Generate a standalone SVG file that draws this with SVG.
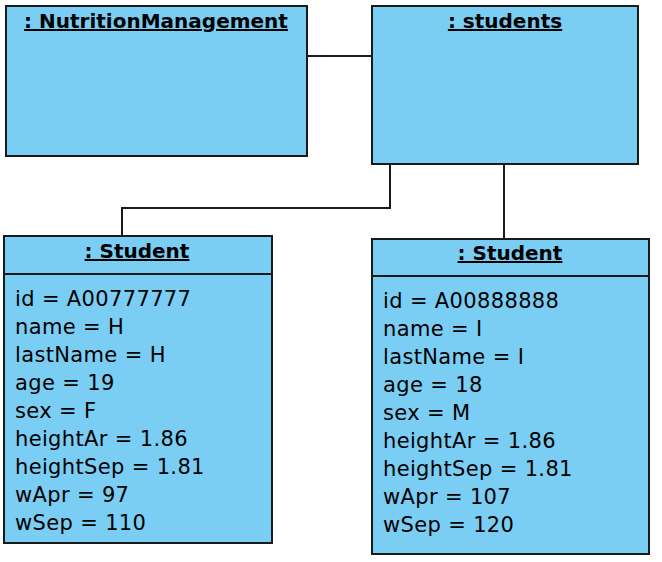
<svg xmlns="http://www.w3.org/2000/svg" width="662" height="562" viewBox="0 0 662 562">
<style>
.box{fill:#7ACEF4;stroke:#1a1a1a;stroke-width:2}
.div{stroke:#1a1a1a;stroke-width:2}
.title{font-family:"DejaVu Sans",sans-serif;font-weight:bold;font-size:20px;text-decoration:underline;text-anchor:middle;fill:#000}
.attr{font-family:"DejaVu Sans",sans-serif;font-size:21px;letter-spacing:0.35px;fill:#000}
.conn{fill:none;stroke:#1a1a1a;stroke-width:2}
</style>
<rect width="662" height="562" fill="#fff"/>
<g id="connectors">
<line class="conn" x1="307" y1="56" x2="372" y2="56"/>
<polyline class="conn" points="390,164 390,208 122,208 122,236"/>
<line class="conn" x1="504" y1="164" x2="504" y2="239"/>
</g>
<g id="nutritionManagement">
<rect class="box" x="6" y="6" width="301" height="150"/>
<text class="title" x="156" y="28">: NutritionManagement</text>
</g>
<g id="students">
<rect class="box" x="372" y="6" width="266" height="158"/>
<text class="title" x="505" y="28">: students</text>
</g>
<g id="student1">
<rect class="box" x="4" y="236" width="268" height="307"/>
<line class="div" x1="4" y1="274" x2="272" y2="274"/>
<text class="title" x="137" y="258">: Student</text>
<text class="attr" x="15" y="306">id = A00777777</text>
<text class="attr" x="15" y="334">name = H</text>
<text class="attr" x="15" y="362">lastName = H</text>
<text class="attr" x="15" y="390">age = 19</text>
<text class="attr" x="15" y="418">sex = F</text>
<text class="attr" x="15" y="446">heightAr = 1.86</text>
<text class="attr" x="15" y="474">heightSep = 1.81</text>
<text class="attr" x="15" y="502">wApr = 97</text>
<text class="attr" x="15" y="530">wSep = 110</text>
</g>
<g id="student2">
<rect class="box" x="372" y="239" width="277" height="315"/>
<line class="div" x1="372" y1="276" x2="649" y2="276"/>
<text class="title" x="510" y="260">: Student</text>
<text class="attr" x="383" y="308">id = A00888888</text>
<text class="attr" x="383" y="336">name = I</text>
<text class="attr" x="383" y="364">lastName = I</text>
<text class="attr" x="383" y="392">age = 18</text>
<text class="attr" x="383" y="420">sex = M</text>
<text class="attr" x="383" y="448">heightAr = 1.86</text>
<text class="attr" x="383" y="476">heightSep = 1.81</text>
<text class="attr" x="383" y="504">wApr = 107</text>
<text class="attr" x="383" y="532">wSep = 120</text>
</g>
</svg>
